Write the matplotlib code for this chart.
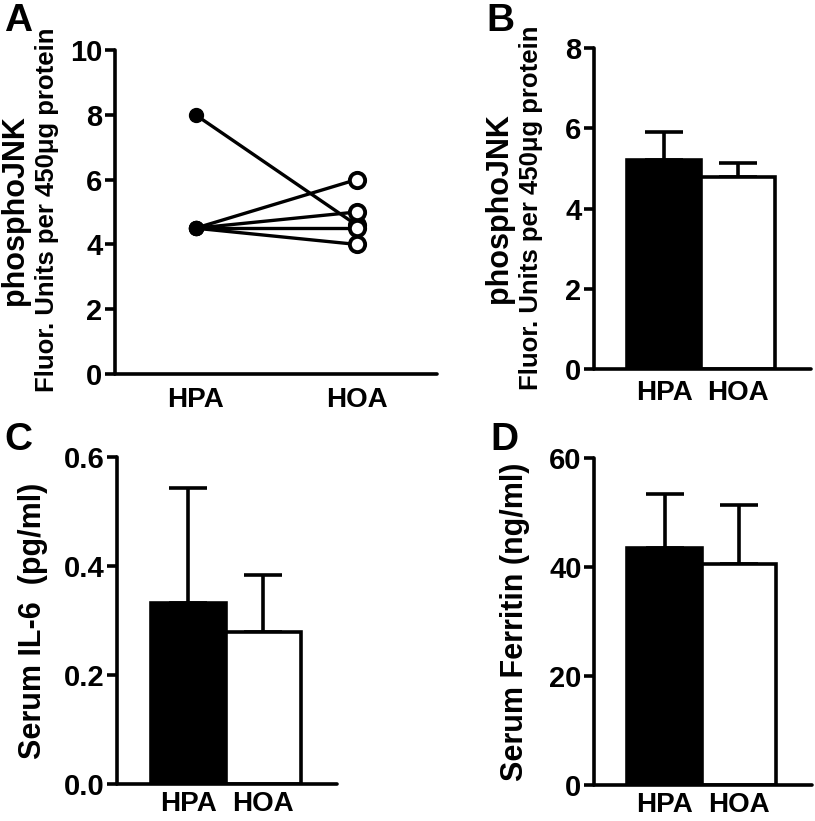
import numpy as np
import matplotlib
matplotlib.use("Agg")
import matplotlib.pyplot as plt

plt.rcParams["font.family"] = ["Liberation Sans", "DejaVu Sans"]
plt.rcParams["font.weight"] = "bold"

groups = ["HPA", "HOA"]

# Panel A: paired values per subject
jnk_hpa = [8.0, 4.5, 4.5, 4.5, 4.5]
jnk_hoa = [4.6, 6.0, 5.0, 4.5, 4.0]

# Panel B: mean + SEM
jnk_mean = [5.22, 4.79]
jnk_err = [0.68, 0.34]

# Panel C: serum IL-6
il6_mean = [0.332, 0.279]
il6_err = [0.211, 0.105]

# Panel D: serum ferritin
ferr_mean = [43.5, 40.6]
ferr_err = [9.9, 10.8]

W, H = 815, 821
fig = plt.figure(figsize=(W / 100, H / 100), dpi=100)


def px_axes(left, right, top, bottom):
    return fig.add_axes([left / W, 1 - bottom / H, (right - left) / W, (bottom - top) / H])


def style(ax, xpad=8):
    for s in ["top", "right"]:
        ax.spines[s].set_visible(False)
    for s in ["left", "bottom"]:
        ax.spines[s].set_linewidth(2.6)
        ax.spines[s].set_capstyle("round")
    ax.tick_params(axis="y", length=7, width=2.6, labelsize=21, pad=2)
    ax.tick_params(axis="x", length=0, labelsize=20, pad=xpad)
    for lab in ax.get_xticklabels() + ax.get_yticklabels():
        lab.set_fontweight("bold")


def bars(ax, means, errs):
    x = np.arange(len(groups))
    ax.bar(x, means, width=1.0, color=["black", "white"], edgecolor="black",
           linewidth=2.6, zorder=2)
    ax.errorbar(x, means, yerr=[np.zeros(len(errs)), errs], fmt="none",
                ecolor="black", elinewidth=2.6, capsize=14, capthick=2.6, zorder=1)
    ax.set_xticks(x)
    ax.set_xticklabels(groups)
    ax.set_xlim(-0.95, 1.98)


# A
axA = px_axes(115, 437, 50, 374)
for a, b in zip(jnk_hpa, jnk_hoa):
    axA.plot([0, 1], [a, b], color="black", lw=2.4, zorder=1)
axA.plot(np.zeros(len(jnk_hpa)), jnk_hpa, "o", color="black", ms=10, zorder=3)
axA.plot(np.ones(len(jnk_hoa)), jnk_hoa, "o", mfc="white", mec="black", mew=2.8, ms=11, zorder=3)
axA.set_xlim(-0.5, 1.5)
axA.set_ylim(0, 10)
axA.set_yticks([0, 2, 4, 6, 8, 10])
axA.set_xticks([0, 1])
axA.set_xticklabels(groups)
style(axA, xpad=9)

# B
axB = px_axes(594, 811, 48, 369)
bars(axB, jnk_mean, jnk_err)
axB.set_ylim(0, 8)
axB.set_yticks([0, 2, 4, 6, 8])
style(axB, xpad=8)

# C
axC = px_axes(117, 337, 457, 784)
bars(axC, il6_mean, il6_err)
axC.set_ylim(0, 0.6)
axC.set_yticks([0.0, 0.2, 0.4, 0.6])
axC.set_yticklabels(["0.0", "0.2", "0.4", "0.6"])
style(axC, xpad=5)

# D
axD = px_axes(594, 812, 458, 785)
bars(axD, ferr_mean, ferr_err)
axD.set_ylim(0, 60)
axD.set_yticks([0, 20, 40, 60])
style(axD, xpad=5)

# y labels (two-line for phosphoJNK)
for xa, xb, yc in [(15, 47, 210), (499, 531, 208)]:
    fig.text(xa / W, 1 - yc / H, "phosphoJNK", rotation=90, ha="center", va="center",
             fontsize=22, fontweight="bold")
    fig.text(xb / W, 1 - yc / H, "Fluor. Units per 450\u03bcg protein", rotation=90,
             ha="center", va="center", fontsize=18.5, fontweight="bold")
fig.text(33 / W, 1 - 621 / H, "Serum IL-6  (pg/ml)", rotation=90, ha="center", va="center",
         fontsize=22, fontweight="bold")
fig.text(515 / W, 1 - 622 / H, "Serum Ferritin (ng/ml)", rotation=90, ha="center", va="center",
         fontsize=22, fontweight="bold")

# panel letters
for lx, ly, letter in [(4, 3, "A"), (486, 3, "B"), (4, 422, "C"), (490, 422, "D")]:
    fig.text(lx / W, 1 - ly / H, letter, ha="left", va="top", fontsize=28, fontweight="bold")

fig.savefig("out.png", dpi=100)
plt.close(fig)
